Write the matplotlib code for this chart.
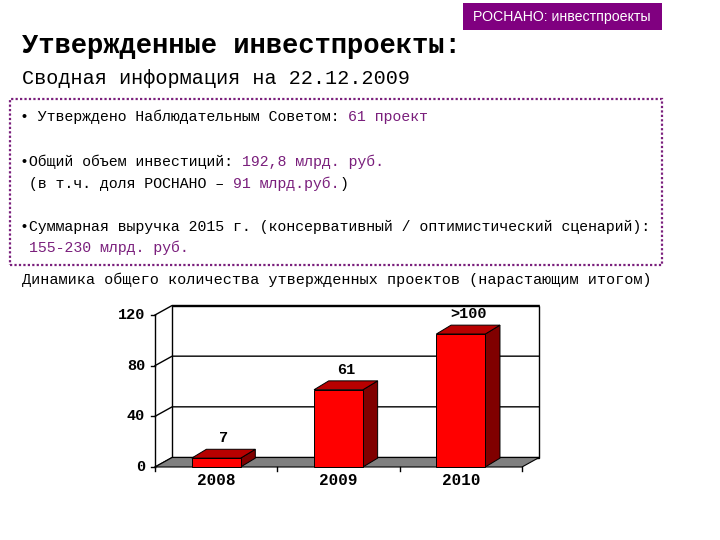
import matplotlib.pyplot as plt
from matplotlib.patches import Polygon, Rectangle

# chart data
years = ['2008', '2009', '2010']
projects = [7, 61, 105]
value_labels = ['7', '61', '>100']
yticks = [0, 40, 80, 120]

# slide texts
tag_text = 'РОСНАНО: инвестпроекты'
title = 'Утвержденные инвестпроекты:'
subtitle = 'Сводная информация на 22.12.2009'
caption = 'Динамика общего количества утвержденных проектов (нарастающим итогом)'
# each bullet line: list of (text, highlighted?)
bullet_lines = [
    (117, 20, [('• Утверждено Наблюдательным Советом: ', False), ('61 проект', True)]),
    (162, 20, [('•Общий объем инвестиций: ', False), ('192,8 млрд. руб.', True)]),
    (184, 20, [(' (в т.ч. доля РОСНАНО – ', False), ('91 млрд.руб.', True), (')', False)]),
    (227, 20, [('•Суммарная выручка 2015 г. (консервативный / оптимистический сценарий):', False)]),
    (248, 20, [(' ', False), ('155-230 млрд. руб.', True)]),
]

MONO = ['Liberation Mono', 'DejaVu Sans Mono']
PURPLE = '#7a1f7c'
W, H = 720, 540

def fx(x):
    return x / W

def fy(y):
    return 1 - y / H

fig = plt.figure(figsize=(7.2, 5.4), dpi=100)
fig.patch.set_facecolor('white')

# purple tag top right
fig.patches.append(Rectangle((fx(463), fy(30)), fx(662) - fx(463), fy(3) - fy(30),
                             transform=fig.transFigure, facecolor='#800080', edgecolor='none'))
fig.text(fx(562), fy(17), tag_text, color='white', fontsize=10.2, ha='center', va='center',
         family=['Liberation Sans Narrow', 'Liberation Sans', 'DejaVu Sans'])

fig.text(fx(22), fy(46), title, fontsize=19.5, va='center', family=MONO, weight='semibold')
fig.text(fx(22), fy(79), subtitle, fontsize=14.5, va='center', family=MONO)

# dotted box
fig.patches.append(Rectangle((fx(10), fy(265)), fx(662) - fx(10), fy(99) - fy(265),
                             transform=fig.transFigure, facecolor='none', edgecolor=PURPLE,
                             linestyle=(0, (1, 1)), linewidth=1.6))

renderer = fig.canvas.get_renderer()
for y, x, parts in bullet_lines:
    xpos = fx(x)
    for txt, hl in parts:
        t = fig.text(xpos, fy(y), txt, fontsize=10.75, va='center', family=MONO,
                     color=PURPLE if hl else 'black')
        bb = t.get_window_extent(renderer)
        xpos += bb.width / W

fig.text(fx(22), fy(280), caption, fontsize=10.9, va='center', family=MONO)

# chart, drawn as pseudo 3D in data coordinates
ax = fig.add_axes([fx(155), fy(467), fx(522) - fx(155), fy(315) - fy(467)])
ax.set_xlim(-0.5, 2.5)
ax.set_ylim(0, 120)
ax.axis('off')

wdx, wdy = 0.14, 7.5   # wall depth
bdx, bdy = 0.12, 7.0   # bar depth
bw = 0.4
x_lo, x_hi = -0.5, 2.5
ymax = yticks[-1]

# back wall and left wall
ax.add_patch(Rectangle((x_lo + wdx, wdy), x_hi - x_lo, ymax, facecolor='white',
                       edgecolor='black', lw=1, zorder=0, clip_on=False))
# grid lines + diagonals to front axis
for v in yticks:
    ax.plot([x_lo, x_lo + wdx, x_hi + wdx], [v, v + wdy, v + wdy], color='black', lw=1,
            zorder=1, clip_on=False)
    ax.plot([x_lo - 0.03, x_lo], [v, v], color='black', lw=1, clip_on=False)
    ax.text(x_lo - 0.08, v, str(v), ha='right', va='center', fontsize=11, family=MONO,
            weight='bold')
ax.plot([x_lo, x_lo], [0, ymax], color='black', lw=1, clip_on=False)

# floor
ax.add_patch(Polygon([(x_lo, 0), (x_hi, 0), (x_hi + wdx, wdy), (x_lo + wdx, wdy)],
                     closed=True, facecolor='#808080', edgecolor='black', lw=0.8,
                     zorder=2, clip_on=False))
for xt in [-0.5, 0.5, 1.5, 2.5]:
    ax.plot([xt, xt], [0, -3], color='black', lw=1, clip_on=False)

# bars
for i, v in enumerate(projects):
    x0, x1 = i - bw / 2, i + bw / 2
    ax.add_patch(Polygon([(x1, 0), (x1 + bdx, bdy), (x1 + bdx, v + bdy), (x1, v)],
                         closed=True, facecolor='#800000', edgecolor='black', lw=0.7,
                         zorder=3, clip_on=False))
    ax.add_patch(Polygon([(x0, v), (x1, v), (x1 + bdx, v + bdy), (x0 + bdx, v + bdy)],
                         closed=True, facecolor='#b80000', edgecolor='black', lw=0.7,
                         zorder=3, clip_on=False))
    ax.add_patch(Rectangle((x0, 0), bw, v, facecolor='#ff0000', edgecolor='black', lw=0.7,
                           zorder=4, clip_on=False))
    ax.annotate(value_labels[i], (i + bdx / 2, v + bdy), xytext=(0, 3),
                textcoords='offset points', ha='center', va='bottom', fontsize=11,
                family=MONO, weight='bold')
    ax.text(i, -11, years[i], ha='center', va='center', fontsize=11.5, family=MONO,
            weight='bold')

fig.savefig('out.png', dpi=100, facecolor='white')
